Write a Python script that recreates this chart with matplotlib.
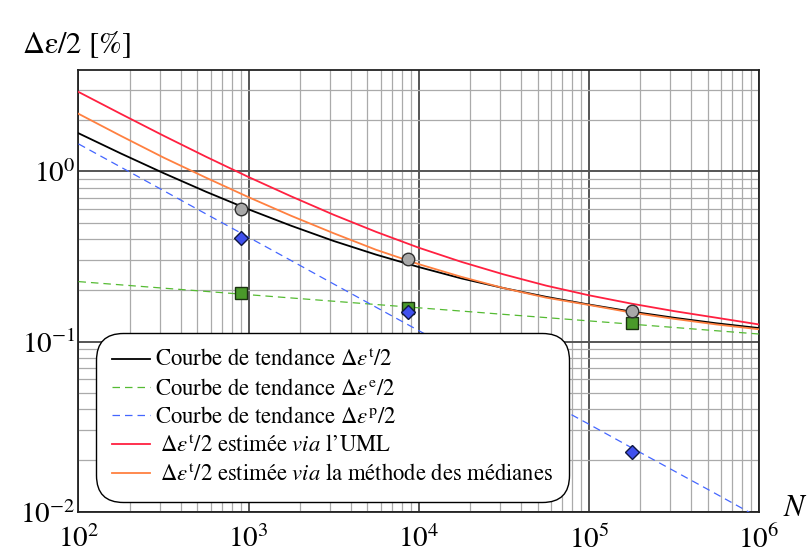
import numpy as np
import matplotlib
matplotlib.use("Agg")
import matplotlib.pyplot as plt
from matplotlib.ticker import LogLocator, NullFormatter

plt.rcParams['font.family'] = ['STIXGeneral', 'DejaVu Serif']
plt.rcParams['mathtext.fontset'] = 'stix'

# donnees
N_curve = [1.00e2, 1.78e2, 3.16e2, 5.62e2, 1.00e3, 1.78e3, 3.16e3, 5.62e3, 1.00e4,
           1.78e4, 3.16e4, 5.62e4, 1.00e5, 1.78e5, 3.16e5, 5.62e5, 1.00e6]
tot_trend = [1.675, 1.272, 0.977, 0.759, 0.598, 0.479, 0.390, 0.324, 0.274,
             0.235, 0.206, 0.183, 0.165, 0.150, 0.138, 0.128, 0.120]
el_trend = [0.225, 0.2152, 0.2059, 0.1970, 0.1884, 0.1803, 0.1725, 0.1650, 0.1578,
            0.1510, 0.1444, 0.1382, 0.1322, 0.1265, 0.1210, 0.1157, 0.1107]
pl_trend = [1.45, 1.057, 0.771, 0.562, 0.410, 0.299, 0.218, 0.159, 0.116,
            0.0844, 0.0615, 0.0448, 0.0327, 0.0238, 0.0174, 0.0127, 0.00923]
uml = [2.93, 2.173, 1.621, 1.219, 0.926, 0.713, 0.556, 0.441, 0.356,
       0.294, 0.248, 0.213, 0.187, 0.167, 0.151, 0.138, 0.126]
medianes = [2.18, 1.614, 1.206, 0.918, 0.705, 0.548, 0.433, 0.346, 0.285,
            0.240, 0.206, 0.181, 0.164, 0.148, 0.136, 0.126, 0.118]

N_exp = [900, 8700, 1.79e5]
tot_exp = [0.601, 0.305, 0.151]
el_exp = [0.194, 0.157, 0.128]
pl_exp = [0.408, 0.149, 0.0225]

fig = plt.figure(figsize=(8.09, 5.54), dpi=100)
ax = fig.add_axes([0.097, 0.0764, 0.841, 0.7972])

ax.plot(N_curve, tot_trend, color='black', lw=1.3,
        label=r'Courbe de tendance $\Delta\varepsilon^{\mathrm{t}}/2$', zorder=4)
ax.plot(N_curve, el_trend, color='#55bb33', lw=0.9, ls=(0, (6, 4)),
        label=r'Courbe de tendance $\Delta\varepsilon^{\mathrm{e}}/2$', zorder=4)
ax.plot(N_curve, pl_trend, color='#4466ff', lw=0.9, ls=(0, (6, 4)),
        label=r'Courbe de tendance $\Delta\varepsilon^{\mathrm{p}}/2$', zorder=4)
ax.plot(N_curve, uml, color='#ff2040', lw=1.3,
        label=r' $\Delta\varepsilon^{\mathrm{t}}/2$ estimée $\mathit{via}$ l’UML', zorder=4)
ax.plot(N_curve, medianes, color='#ff8040', lw=1.3,
        label=r' $\Delta\varepsilon^{\mathrm{t}}/2$ estimée $\mathit{via}$ la méthode des médianes', zorder=4)

ax.plot(N_exp, el_exp, ls='none', marker='s', ms=8, mfc='#4a9a2a', mec='#1a3010', mew=1.0, zorder=5)
ax.plot(N_exp, pl_exp, ls='none', marker='D', ms=7.5, mfc='#4050ee', mec='#101840', mew=1.0, zorder=6)
ax.plot(N_exp, tot_exp, ls='none', marker='o', ms=9, mfc='#a8a8a8', mec='#303030', mew=1.0, zorder=7)

ax.set_xscale('log')
ax.set_yscale('log')
ax.set_xlim(1e2, 1e6)
ax.set_ylim(1e-2, 3.94)
ax.xaxis.set_minor_locator(LogLocator(base=10, subs=np.arange(2, 10), numticks=50))
ax.yaxis.set_minor_locator(LogLocator(base=10, subs=np.arange(2, 10), numticks=50))
ax.xaxis.set_minor_formatter(NullFormatter())
ax.yaxis.set_minor_formatter(NullFormatter())
ax.set_yticks([1e-2, 1e-1, 1e0])
ax.set_xticks([1e2, 1e3, 1e4, 1e5, 1e6])
ax.grid(which='major', color='#555555', lw=1.4)
ax.grid(which='minor', color='#aaaaaa', lw=0.9)
ax.set_axisbelow(True)
ax.tick_params(which='both', length=0, labelsize=21)
ax.tick_params(axis='x', pad=10)
ax.tick_params(axis='y', pad=2)
for s in ax.spines.values():
    s.set_linewidth(1.3)
    s.set_color('#222222')

leg = ax.legend(loc='lower left', bbox_to_anchor=(0.016, 0.006), fontsize=16.3,
                handlelength=1.7, handletextpad=0.22, labelspacing=0.3,
                borderpad=0.5, frameon=True, framealpha=1, edgecolor='black')
leg.get_frame().set_boxstyle('round,pad=0.2,rounding_size=1.2')
leg.get_frame().set_linewidth(1.0)
leg.set_zorder(10)

fig.text(22 / 809, 1 - 45 / 554, r'$\Delta\mathrm{\varepsilon}/2$ [%]', fontsize=22, va='center', ha='left')
ax.text(1.036, 0.005, r'$N$', transform=ax.transAxes, fontsize=22, va='center', ha='left')

fig.savefig('out.png', dpi=100)
